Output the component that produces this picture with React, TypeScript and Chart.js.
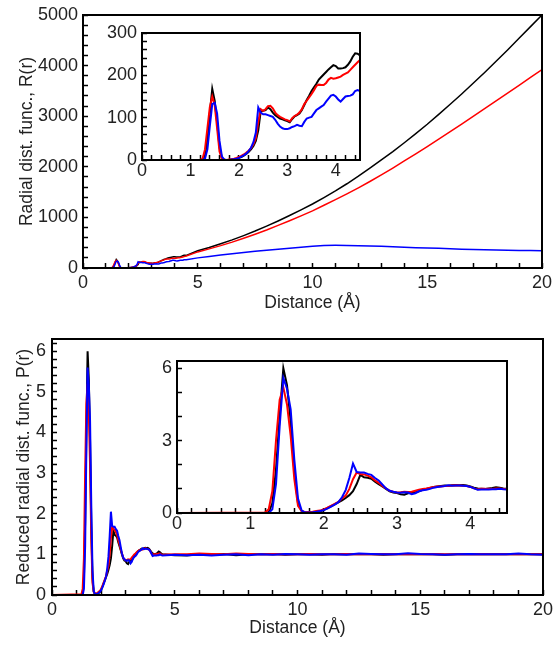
import React, { useEffect, useRef } from "react";
import { Chart, registerables } from "chart.js";
Chart.register(...registerables);

// ---------- data ----------
const xLow = [0, 1.2, 1.25, 1.3, 1.35, 1.4, 1.45, 1.5, 1.55, 1.6, 1.65, 1.7, 1.75, 1.8, 1.85, 1.9, 1.95, 2, 2.05, 2.1, 2.15, 2.2, 2.25, 2.3, 2.35, 2.4, 2.45,
  2.5, 2.55, 2.6, 2.65, 2.7, 2.75, 2.8, 2.85, 2.9, 2.95, 3, 3.05, 3.1, 3.15, 3.2, 3.25, 3.3, 3.35, 3.4, 3.45, 3.5, 3.55, 3.6, 3.65, 3.7, 3.75, 3.8, 3.85, 3.9, 3.95,
  4, 4.05, 4.1, 4.15, 4.2, 4.25, 4.3, 4.35, 4.4, 4.45, 4.5];
const xHigh = [5, 5.5, 6, 6.5, 7, 7.5, 8, 8.5, 9, 9.5, 10, 10.5, 11, 11.5, 12, 12.5, 13, 13.5, 14, 14.5, 15, 15.5, 16, 16.5, 17, 17.5, 18, 18.5, 19, 19.5, 20];

// Radial distribution function R(r)
const rBlackLow = [0, 0, 0, 10, 50, 110, 168, 140, 90, 30, 5, 0, 0, 0, 1, 2, 3, 5, 7, 10, 14, 19, 25, 33, 45, 70, 115,
  116, 118, 124, 120, 112, 106, 102, 98, 96, 94, 92, 89, 97, 103, 106, 110, 118, 130, 142, 152, 163, 172, 180, 190, 196, 202, 208, 214, 219, 224,
  222, 216, 216, 217, 219, 225, 233, 244, 252, 251, 247];
const rRedLow = [0, 0, 3, 25, 75, 125, 150, 130, 75, 20, 3, 0, 0, 1, 2, 3, 5, 7, 10, 13, 17, 22, 28, 37, 52, 90, 120,
  116, 120, 127, 128, 122, 112, 106, 102, 99, 96, 94, 91, 99, 104, 107, 112, 120, 132, 140, 148, 156, 165, 175, 178, 177, 177, 182, 190, 194, 192,
  193, 195, 197, 201, 204, 207, 213, 219, 225, 231, 236];
const rBlueLow = [0, 0, 0, 3, 25, 80, 132, 135, 110, 45, 8, 1, 0, 0, 1, 2, 3, 5, 8, 11, 15, 21, 29, 42, 65, 124, 112,
  108, 108, 106, 104, 102, 95, 86, 79, 75, 73, 73, 75, 78, 80, 83, 81, 80, 90, 98, 100, 102, 110, 118, 122, 126, 130, 138, 145, 152, 154,
  150, 143, 138, 144, 150, 151, 152, 155, 163, 165, 163];
const rBlackHigh = [340, 405, 478, 555, 640, 730, 828, 930, 1038, 1150, 1265, 1392, 1525, 1665, 1815, 1975, 2135, 2300, 2475, 2655, 2840, 3035, 3235, 3440, 3650, 3865, 4085, 4310, 4540, 4770, 5000];
const rRedHigh = [318, 378, 442, 512, 588, 668, 752, 842, 935, 1030, 1130, 1240, 1350, 1465, 1585, 1710, 1840, 1975, 2115, 2255, 2400, 2545, 2695, 2845, 2995, 3150, 3305, 3455, 3610, 3765, 3920];
const rBlueHigh = [200, 228, 255, 280, 305, 330, 352, 372, 392, 410, 430, 445, 448, 446, 442, 436, 428, 420, 410, 402, 395, 388, 380, 372, 366, 360, 355, 350, 347, 345, 342];

// Reduced radial distribution function P(r)
const pBlackLow = [0, 0, 0.03, 0.4, 1.8, 4.0, 6.0, 5.3, 3.8, 1.7, 0.4, 0.08, 0.02, 0.02, 0.03, 0.05, 0.07, 0.12, 0.2, 0.28, 0.36, 0.44, 0.52, 0.62, 0.74, 0.9, 1.2,
  1.58, 1.48, 1.46, 1.42, 1.3, 1.2, 1.1, 1.0, 0.9, 0.85, 0.83, 0.78, 0.76, 0.82, 0.84, 0.86, 0.9, 0.96, 1.0, 1.04, 1.08, 1.1, 1.12, 1.14, 1.13, 1.15, 1.16, 1.15, 1.16, 1.14,
  1.1, 1.05, 1.02, 1.01, 1.0, 1.02, 1.04, 1.07, 1.05, 1.02, 1.0];
const pRedLow = [0, 0.02, 0.15, 0.9, 3.0, 4.7, 5.2, 4.5, 3.2, 1.4, 0.3, 0.08, 0.03, 0.04, 0.05, 0.08, 0.1, 0.15, 0.22, 0.3, 0.38, 0.46, 0.6, 0.72, 1.0, 1.4, 1.68,
  1.62, 1.6, 1.55, 1.48, 1.35, 1.25, 1.12, 1.02, 0.92, 0.88, 0.85, 0.86, 0.88, 0.87, 0.88, 0.92, 0.96, 1.0, 1.02, 1.05, 1.08, 1.1, 1.1, 1.12, 1.12, 1.14, 1.15, 1.14, 1.13, 1.12,
  1.08, 1.02, 0.98, 1.0, 1.0, 1.01, 1.0, 1.02, 1.02, 1.0, 0.99];
const pBlueLow = [0, 0, 0, 0.15, 1.2, 3.6, 5.6, 5.15, 4.3, 2.2, 0.6, 0.1, 0.02, 0.02, 0.03, 0.05, 0.08, 0.12, 0.18, 0.26, 0.35, 0.45, 0.65, 0.95, 1.45, 2.05, 1.7,
  1.68, 1.68, 1.62, 1.58, 1.45, 1.35, 1.18, 1.02, 0.92, 0.88, 0.85, 0.84, 0.86, 0.85, 0.78, 0.82, 0.9, 0.94, 0.96, 1.0, 1.05, 1.08, 1.1, 1.12, 1.15, 1.13, 1.14, 1.14, 1.13, 1.12,
  1.08, 1.02, 0.96, 0.97, 0.97, 0.97, 0.98, 0.98, 1.0, 0.98, 0.97];
const pBlackHigh = [0.98, 0.97, 1.0, 0.99, 1.01, 0.98, 1.0, 1.0, 1.01, 0.99, 1.0, 1.0, 0.99, 1.01, 1.0, 1.0, 1.0, 0.99, 1.0, 1.01, 1.0, 1.0, 0.99, 1.0, 1.0, 1.0, 1.0, 1.0, 1.0, 1.0, 1.0];
const pRedHigh = [1.0, 1.0, 1.02, 1.01, 1.0, 1.02, 1.01, 1.0, 1.01, 1.0, 1.0, 1.01, 1.0, 1.0, 1.01, 1.0, 1.0, 1.01, 1.0, 1.0, 1.0, 1.01, 1.0, 1.0, 1.0, 1.01, 1.0, 1.0, 1.0, 1.0, 1.0];
const pBlueHigh = [0.99, 0.98, 0.99, 0.97, 0.99, 1.0, 0.98, 1.0, 0.99, 1.01, 1.0, 0.99, 1.0, 1.0, 0.99, 1.02, 1.01, 1.0, 1.0, 1.03, 1.01, 1.0, 0.99, 1.0, 1.01, 1.0, 1.0, 1.0, 1.02, 1.0, 0.99];

// tick labels
const xMainTicks = [0, 5, 10, 15, 20];
const xInsetTicks = [0, 1, 2, 3, 4];
const yRMainTicks = [0, 1000, 2000, 3000, 4000, 5000];
const yRInsetTicks = [0, 100, 200, 300];
const yPMainTicks = [0, 1, 2, 3, 4, 5, 6];
const yPInsetTicks = [0, 3, 6];

const BLACK = "#000000";
const RED = "#ff0000";
const BLUE = "#0000ff";
const TEXT = "#222222";
const FONT = "'Liberation Sans', Arial, Helvetica, sans-serif";
const TICK_LEN = 5;

const xAll = [...xLow, ...xHigh];
const pts = (ys: number[]) => xAll.map((x, i) => ({ x, y: ys[i] }));

type Cfg = {
  black: number[]; red: number[]; blue: number[];
  xMax: number; yMax: number; xTicks: number[]; yTicks: number[];
  yWidth: number; xHeight: number; padTop: number; padRight: number;
  xPad: number; yPad: number; lineWidth: number;
  xTitle?: string; yTitle?: string; yTitlePad?: number; xTitlePad?: number;
  inset: boolean; xMinor: number; yMinor: number;
};

// minor + major tick positions for the axis decoration
function tickPositions(max: number, step: number) {
  const out: number[] = [];
  const n = Math.floor(max / step + 1e-6);
  for (let i = 0; i <= n; i++) out.push(Math.round(i * step * 1e6) / 1e6);
  return out;
}

function makeFramePlugin(c: Cfg) {
  return {
    id: "frameBox",
    beforeDraw(chart: any) {
      if (!c.inset) return;
      const { ctx, chartArea: a } = chart;
      ctx.save();
      ctx.fillStyle = "#ffffff";
      ctx.fillRect(a.left, a.top, a.right - a.left, a.bottom - a.top);
      ctx.restore();
    },
    afterDraw(chart: any) {
      const { ctx, chartArea: a } = chart;
      ctx.save();
      ctx.strokeStyle = "#000000";
      ctx.lineWidth = 2;
      ctx.strokeRect(a.left, a.top, a.right - a.left, a.bottom - a.top);
      ctx.restore();
    },
  };
}

function makeChart(canvas: HTMLCanvasElement, c: Cfg) {
  const zeroPad = (s: any) => { s.paddingTop = 0; s.paddingBottom = 0; s.paddingLeft = 0; s.paddingRight = 0; };
  const tickFont = { family: FONT, size: 18 };
  const titleFont = { family: FONT, size: 17.5 };
  const labelOf = (major: number[]) => (v: any) => {
    const m = major.find((t) => Math.abs(t - Number(v)) < 1e-6);
    return m === undefined ? "" : String(m);
  };
  const grid = {
    display: true, drawOnChartArea: false, drawTicks: true,
    tickLength: -TICK_LEN, tickWidth: 1.5, tickColor: "#000000", color: "#000000",
  };
  const xPos = tickPositions(c.xMax, c.xMinor);
  const yPos = tickPositions(c.yMax, c.yMinor);
  return new Chart(canvas, {
    type: "line",
    data: {
      datasets: [
        { data: pts(c.blue), borderColor: BLUE, borderWidth: c.lineWidth, pointRadius: 0, fill: false, tension: 0 },
        { data: pts(c.red), borderColor: RED, borderWidth: c.lineWidth, pointRadius: 0, fill: false, tension: 0 },
        { data: pts(c.black), borderColor: BLACK, borderWidth: c.lineWidth, pointRadius: 0, fill: false, tension: 0 },
      ],
    },
    options: {
      responsive: false,
      animation: false,
      parsing: false as any,
      layout: { padding: { left: 0, top: c.padTop, right: c.padRight, bottom: 0 } },
      plugins: {
        legend: { display: false },
        tooltip: { enabled: false },
      },
      scales: {
        x: {
          type: "linear", min: 0, max: c.xMax,
          afterBuildTicks: (s: any) => { s.ticks = xPos.map((v) => ({ value: v })); },
          afterFit: (s: any) => { s.height = c.xHeight; zeroPad(s); },
          grid,
          border: { display: false },
          ticks: { padding: c.xPad + TICK_LEN, color: TEXT, font: tickFont, autoSkip: false, maxRotation: 0, minRotation: 0, callback: labelOf(c.xTicks) },
          title: c.xTitle
            ? { display: true, text: c.xTitle, color: TEXT, font: titleFont, padding: { top: 0, bottom: c.xTitlePad } }
            : { display: false },
        },
        y: {
          type: "linear", min: 0, max: c.yMax,
          afterBuildTicks: (s: any) => { s.ticks = yPos.map((v) => ({ value: v })); },
          afterFit: (s: any) => { s.width = c.yWidth; zeroPad(s); },
          grid,
          border: { display: false },
          ticks: { padding: c.yPad + TICK_LEN, color: TEXT, font: tickFont, autoSkip: false, callback: labelOf(c.yTicks) },
          title: c.yTitle
            ? { display: true, text: c.yTitle, color: TEXT, font: titleFont, padding: { top: c.yTitlePad, bottom: 0 } }
            : { display: false },
        },
      },
    } as any,
    plugins: [makeFramePlugin(c) as any],
  });
}

function ChartCanvas({ left, top, width, height, cfg }: { left: number; top: number; width: number; height: number; cfg: Cfg }) {
  const ref = useRef<HTMLCanvasElement | null>(null);
  useEffect(() => {
    if (!ref.current) return;
    const ch = makeChart(ref.current, cfg);
    return () => ch.destroy();
  }, []);
  return <canvas ref={ref} width={width} height={height} style={{ position: "absolute", left, top, width, height }} />;
}

export default function App() {
  const topMain: Cfg = {
    black: [...rBlackLow, ...rBlackHigh], red: [...rRedLow, ...rRedHigh], blue: [...rBlueLow, ...rBlueHigh],
    xMax: 20, yMax: 5000, xTicks: xMainTicks, yTicks: yRMainTicks,
    yWidth: 83, xHeight: 52, padTop: 15, padRight: 15, xPad: 4, yPad: 5, lineWidth: 1.5,
    xTitle: "Distance (Å)", yTitle: "Radial dist. func., R(r)", yTitlePad: 17, xTitlePad: 6.5,
    inset: false, xMinor: 1, yMinor: 200,
  };
  const topInset: Cfg = {
    black: [...rBlackLow, ...rBlackHigh], red: [...rRedLow, ...rRedHigh], blue: [...rBlueLow, ...rBlueHigh],
    xMax: 4.5, yMax: 300, xTicks: xInsetTicks, yTicks: yRInsetTicks,
    yWidth: 42, xHeight: 30, padTop: 13, padRight: 15, xPad: 0, yPad: 5, lineWidth: 2,
    inset: true, xMinor: 0.2, yMinor: 20,
  };
  const botMain: Cfg = {
    black: [...pBlackLow, ...pBlackHigh], red: [...pRedLow, ...pRedHigh], blue: [...pBlueLow, ...pBlueHigh],
    xMax: 20, yMax: 6.3, xTicks: xMainTicks, yTicks: yPMainTicks,
    yWidth: 52, xHeight: 50, padTop: 19, padRight: 14, xPad: 4, yPad: 6, lineWidth: 2,
    xTitle: "Distance (Å)", yTitle: "Reduced radial dist. func., P(r)", yTitlePad: 13.5, xTitlePad: 6.5,
    inset: false, xMinor: 1, yMinor: 0.2,
  };
  const botInset: Cfg = {
    black: [...pBlackLow, ...pBlackHigh], red: [...pRedLow, ...pRedHigh], blue: [...pBlueLow, ...pBlueHigh],
    xMax: 4.5, yMax: 6.3, xTicks: xInsetTicks, yTicks: yPInsetTicks,
    yWidth: 37, xHeight: 32, padTop: 16, padRight: 18, xPad: 0, yPad: 5, lineWidth: 2,
    inset: true, xMinor: 0.2, yMinor: 1,
  };
  return (
    <div style={{ position: "absolute", left: 0, top: 0, width: 557, height: 645, background: "#fff", overflow: "hidden" }}>
      <ChartCanvas left={0} top={0} width={557} height={320} cfg={topMain} />
      <ChartCanvas left={0} top={320} width={557} height={325} cfg={botMain} />
      <ChartCanvas left={100} top={20} width={275} height={170} cfg={topInset} />
      <ChartCanvas left={140} top={345} width={385} height={200} cfg={botInset} />
    </div>
  );
}
